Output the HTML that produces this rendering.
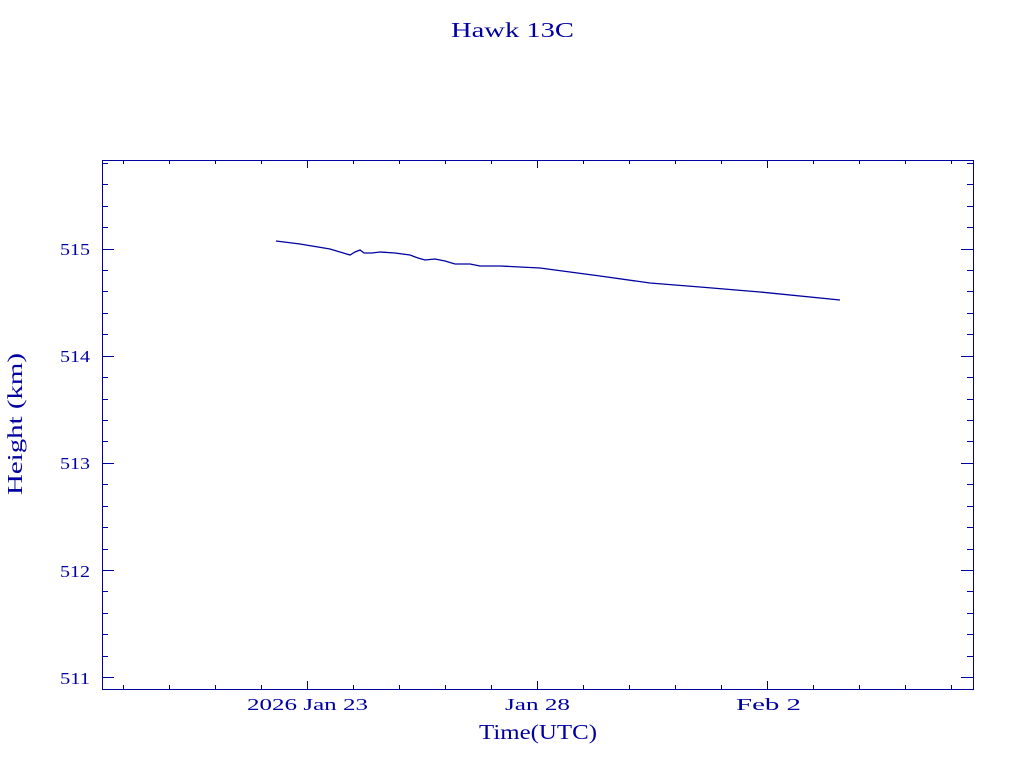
<!DOCTYPE html>
<html><head><meta charset="utf-8"><style>
body{margin:0;background:#fff;}
svg text{font-family:"Liberation Serif",serif;fill:#0000a0;}
</style></head><body>
<svg width="1024" height="768" xmlns="http://www.w3.org/2000/svg">
<rect width="1024" height="768" fill="#fff"/>
<g stroke="#0000a0" stroke-width="1" fill="none" shape-rendering="crispEdges">
<rect x="102.5" y="160.5" width="871" height="529"/>
<path d="
M102 163.5h6M973 163.5h-6
M102 184.5h6M973 184.5h-6
M102 206.5h6M973 206.5h-6
M102 227.5h6M973 227.5h-6
M102 249.5h12M973 249.5h-12
M102 270.5h6M973 270.5h-6
M102 291.5h6M973 291.5h-6
M102 313.5h6M973 313.5h-6
M102 334.5h6M973 334.5h-6
M102 356.5h12M973 356.5h-12
M102 377.5h6M973 377.5h-6
M102 399.5h6M973 399.5h-6
M102 420.5h6M973 420.5h-6
M102 441.5h6M973 441.5h-6
M102 463.5h12M973 463.5h-12
M102 484.5h6M973 484.5h-6
M102 506.5h6M973 506.5h-6
M102 527.5h6M973 527.5h-6
M102 549.5h6M973 549.5h-6
M102 570.5h12M973 570.5h-12
M102 591.5h6M973 591.5h-6
M102 613.5h6M973 613.5h-6
M102 634.5h6M973 634.5h-6
M102 656.5h6M973 656.5h-6
M102 677.5h12M973 677.5h-12
"/>
<path d="
M123.5 689v-4M123.5 160v4
M169.5 689v-4M169.5 160v4
M215.5 689v-4M215.5 160v4
M261.5 689v-4M261.5 160v4
M307.5 689v-8M307.5 160v8
M353.5 689v-4M353.5 160v4
M399.5 689v-4M399.5 160v4
M445.5 689v-4M445.5 160v4
M491.5 689v-4M491.5 160v4
M537.5 689v-8M537.5 160v8
M583.5 689v-4M583.5 160v4
M629.5 689v-4M629.5 160v4
M675.5 689v-4M675.5 160v4
M721.5 689v-4M721.5 160v4
M767.5 689v-8M767.5 160v8
M813.5 689v-4M813.5 160v4
M859.5 689v-4M859.5 160v4
M905.5 689v-4M905.5 160v4
M951.5 689v-4M951.5 160v4
"/>
</g>
<polyline fill="none" stroke="#0000a0" stroke-width="1.3" points="276,241 300,244 330,249 350,255 355,252 360,250 364,253 372,253 380,252 395,253 410,255 418,258 425,260 435,259 445,261 455,264 470,264 480,266 500,266 520,267 540,268 600,276 650,283 700,287 760,292 840,300"/>
<g font-size="17">
<text x="60" y="255" textLength="30" lengthAdjust="spacingAndGlyphs">515</text>
<text x="60" y="362" textLength="30" lengthAdjust="spacingAndGlyphs">514</text>
<text x="60" y="469" textLength="30" lengthAdjust="spacingAndGlyphs">513</text>
<text x="60" y="577" textLength="30" lengthAdjust="spacingAndGlyphs">512</text>
<text x="60" y="684" textLength="30" lengthAdjust="spacingAndGlyphs">511</text>
<text x="247" y="710" textLength="121" lengthAdjust="spacingAndGlyphs">2026 Jan 23</text>
<text x="505" y="710" textLength="65" lengthAdjust="spacingAndGlyphs">Jan 28</text>
<text x="736" y="710" textLength="65" lengthAdjust="spacingAndGlyphs">Feb  2</text>
</g>
<text x="479" y="739" font-size="21" textLength="118" lengthAdjust="spacingAndGlyphs">Time(UTC)</text>
<text x="451" y="37" font-size="21" textLength="123" lengthAdjust="spacingAndGlyphs">Hawk 13C</text>
<text transform="translate(22,495) rotate(-90)" font-size="21" textLength="142" lengthAdjust="spacingAndGlyphs">Height (km)</text>
</svg>
</body></html>
